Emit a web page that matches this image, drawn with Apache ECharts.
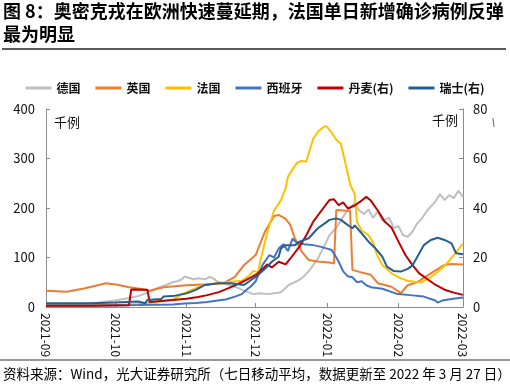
<!DOCTYPE html>
<html><head><meta charset="utf-8">
<script src="https://cdn.jsdelivr.net/npm/echarts@6/dist/echarts.min.js"></script>
<style>html,body{margin:0;padding:0;background:#fff}#c{width:510px;height:386px}</style>
</head><body><div id="c"></div>
<script>
// x values: days since 2021-09-27 (data runs to 2022-03-27)
const tickDays = [0, 30, 61, 91, 122, 153, 181];
const tickLabels = ['2021-09', '2021-10', '2021-11', '2021-12', '2022-01', '2022-02', '2022-03'];
const seriesNames = ['德国', '英国', '法国', '西班牙', '丹麦(右)', '瑞士(右)'];

// 德国 (千例, left axis)
const deDays = [0,10,20,25,30,35,40,43,45,47,50,53,55,57,59,60,62,64,66,69,71,73,74,77,82,86,90,93,96,99,102,105,107,110,112,115,118,121,123,126,128,130,132,134,136,138,140,142,144,146,149,151,153,155,157,159,161,163,165,167,169,171,173,175,177,179,181];
const deVals = [5,5,7,10,13,17,22,27,31,36,41,46,50,52,56,61,59,56,58,56,61,57,52,48,41,33,26,28,26,28,30,43,48,55,62,78,98,125,145,160,175,190,200,210,195,188,197,180,193,174,180,160,163,145,142,152,168,178,192,203,213,228,216,226,220,235,222];

// 英国 (left axis)
const ukDays = [0,9,17,26,31,36,41,45,51,56,61,70,77,82,86,91,95,99,101,104,106,108,111,114,118,123,125,126,132,133,136,141,144,150,154,157,161,167,173,176,181];
const ukVals = [33,31,38,48,45,40,37,33,40,42,44,46,48,61,85,105,152,184,186,178,166,139,112,95,92,90,88,196,194,75,71,65,48,41,28,44,50,68,85,87,86];

// 法国 (left axis)
const frDays = [0,15,30,40,48,55,60,62,68,73,78,85,88,90,92,93,96,99,102,104,105,107,109,111,113,114,116,118,120,121,122,124,126,128,130,132,134,135,137,140,142,143,144,146,150,154,157,160,163,167,171,174,177,181];
const frVals = [3,3,4,6,10,15,28,32,44,47,50,53,63,73,70,92,150,195,216,240,263,278,292,295,294,310,340,354,362,365,364,352,338,330,290,248,228,172,155,145,130,115,102,85,68,58,53,51,50,60,75,88,105,128];

// 西班牙 (left axis)
const esDays = [0,20,40,55,60,65,70,73,76,78,82,85,87,89,91,94,97,99,101,103,105,107,109,112,116,119,122,124,125,127,129,131,133,135,137,139,141,146,152,158,164,169,170,172,176,181];
const esVals = [3,3,4,5,7,8,10,12,14,15,21,26,35,42,52,85,105,100,118,127,113,138,130,127,125,122,118,115,108,92,72,62,60,50,52,44,40,37,27,24,21,13,9,13,16,19];

// 丹麦 (right axis)
const dkDays = [0,20,36,37,44,45,50,55,61,66,70,75,79,85,89,92,95,96,98,101,104,106,110,113,116,120,123,125,127,129,131,134,137,139,141,144,147,150,153,156,159,162,165,169,173,177,181];
const dkVals = [0.5,0.5,0.7,7.1,7.0,2.0,2.4,2.8,3.3,4.0,4.8,6.0,7.5,10,12,13.6,16.3,17.2,16.0,18.3,17.2,19.5,24.4,29,34.5,39.5,43.2,43.5,41.2,42.3,39.8,41,43,44.5,43,39,34.5,32,26.4,21,17,13.6,11.6,9,7,5.8,4.9];

// 瑞士 (right axis)
const chDays = [0,20,30,40,43,44,50,51,55,61,65,69,75,80,86,89,92,96,98,101,102,104,108,110,114,116,118,121,123,126,128,130,133,134,137,140,143,146,148,151,154,157,159,161,164,167,170,173,176,178,181];
const chVals = [1.5,1.5,1.8,2.2,1.5,2.8,3.2,4.2,4.4,5.5,6.9,8.9,9.6,9.6,8.9,10.9,12.9,16.3,18.3,20.3,23.7,25,25,26.4,27.8,29.8,31.8,33.8,35.2,35.8,35.2,33.8,31.8,33,29.8,26.4,23.7,20.3,16.3,14.5,14.3,15.4,16.7,20,25,27.1,28,27.1,25.7,21.7,21.3];

const colors = ['#BFBFBF', '#ED7D31', '#FFC000', '#4472C4', '#C00000', '#255E91'];
const FONT = '"Noto Sans CJK SC", "Noto Sans", sans-serif';

const pairs = (d, v) => d.map((x, i) => [x, v[i]]);
const dataSets = [
  [deDays, deVals, 0], [ukDays, ukVals, 0], [frDays, frVals, 0],
  [esDays, esVals, 0], [dkDays, dkVals, 1], [chDays, chVals, 1]
];

const chart = echarts.init(document.getElementById('c'), null, {renderer: 'canvas'});
const axisCol = '#8c8c8c';
chart.setOption({
  animation: false,
  textStyle: {fontFamily: FONT},
  legend: {
    top: 77, left: 'center', itemWidth: 26, itemHeight: 3, itemGap: 15, icon: 'rect',
    textStyle: {fontSize: 12, fontWeight: 'bold', color: '#111', fontFamily: FONT},
    data: seriesNames
  },
  grid: {left: 46, right: 47, top: 109, bottom: 79, containLabel: false},
  xAxis: {
    type: 'value', min: 0, max: 181,
    axisLine: {show: true, lineStyle: {color: axisCol, width: 1}},
    axisTick: {show: true, inside: true, length: 4, customValues: tickDays, lineStyle: {color: axisCol}},
    splitLine: {show: false},
    axisLabel: {
      customValues: tickDays, rotate: -90, margin: 6, fontSize: 12, color: '#111', fontFamily: FONT,
      formatter: v => tickLabels[tickDays.indexOf(v)]
    }
  },
  yAxis: [
    {type: 'value', min: 0, max: 400, interval: 100,
     axisLine: {show: true, lineStyle: {color: axisCol}},
     axisTick: {show: true, inside: true, length: 4, lineStyle: {color: axisCol}},
     splitLine: {show: false},
     axisLabel: {fontSize: 13, color: '#111', margin: 11, fontFamily: FONT}},
    {type: 'value', min: 0, max: 80, interval: 20, position: 'right',
     axisLine: {show: true, lineStyle: {color: axisCol}},
     axisTick: {show: true, inside: true, length: 4, lineStyle: {color: axisCol}},
     splitLine: {show: false},
     axisLabel: {fontSize: 13, color: '#111', margin: 10, fontFamily: FONT}}
  ],
  series: dataSets.map((s, i) => ({
    name: seriesNames[i], type: 'line', yAxisIndex: s[2],
    data: pairs(s[0], s[1]), symbol: 'none', showSymbol: false,
    lineStyle: {color: colors[i], width: 2}, itemStyle: {color: colors[i]}
  })),
  graphic: [
    {type: 'text', left: 3, top: 2, style: {text: '图 8：奥密克戎在欧洲快速蔓延期，法国单日新增确诊病例反弹', fontSize: 18, fontWeight: 'bold', fill: '#000', fontFamily: FONT}},
    {type: 'text', left: 3, top: 25, style: {text: '最为明显', fontSize: 18, fontWeight: 'bold', fill: '#000', fontFamily: FONT}},
    {type: 'line', shape: {x1: 2, y1: 49, x2: 506, y2: 49}, style: {stroke: '#222', lineWidth: 1.5}},
    {type: 'text', left: 54, top: 116, style: {text: '千例', fontSize: 13, fill: '#111', fontFamily: FONT}},
    {type: 'text', left: 432, top: 114, style: {text: '千例', fontSize: 13, fill: '#111', fontFamily: FONT}},
    {type: 'line', shape: {x1: 493, y1: 118, x2: 494, y2: 127}, style: {stroke: '#666', lineWidth: 1}},
    {type: 'line', shape: {x1: 0, y1: 360, x2: 510, y2: 360}, style: {stroke: '#333', lineWidth: 1}},
    {type: 'text', left: 3, top: 367, style: {text: '资料来源：Wind，光大证券研究所（七日移动平均，数据更新至 2022 年 3 月 27 日）', fontSize: 13.5, fill: '#000', fontFamily: FONT}}
  ]
});
</script></body></html>
